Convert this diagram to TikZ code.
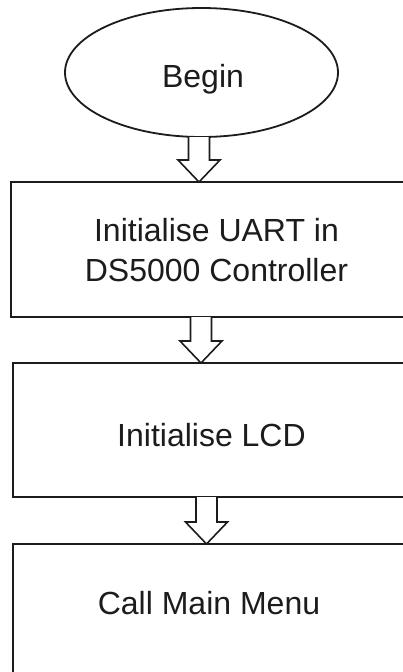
\documentclass[tikz,border=0pt]{standalone}
\usepackage{fontspec}
\setmainfont{Liberation Sans}
\usetikzlibrary{shapes.geometric,calc}

\definecolor{ink}{HTML}{1C1C1C}

\tikzset{
  terminal/.style={draw=ink, line width=1.8pt, ellipse, fill=white,
    minimum width=273pt, minimum height=129pt, inner sep=0pt, outer sep=0pt},
  process/.style={draw=ink, line width=1.8pt, rectangle, fill=white,
    minimum width=414pt, inner sep=0pt, outer sep=0pt},
  label/.style={text=ink, font=\fontsize{32}{40}\selectfont, inner sep=0pt, align=center},
  arrowline/.style={draw=ink, fill=white, line width=1.6pt, line join=miter},
}

% hollow block arrow from a tail point down to a tip point
\newcommand{\blockarrow}[2]{%
  \draw[arrowline] ($(#1)+(-10.5,0)$) -- ($(#2)+(-10.5,-22)$) -- ($(#2)+(-21,-22)$)
    -- (#2) -- ($(#2)+(21,-22)$) -- ($(#2)+(10.5,-22)$) -- ($(#1)+(10.5,0)$);
}

\begin{document}
\begin{tikzpicture}[x=1pt, y=-1pt]
  \useasboundingbox (0,0) rectangle (403,672);
  \clip (0,0) rectangle (403,672);
  \fill[white] (0,0) rectangle (403,672);

  % shapes
  \node[terminal] (begin) at (201.5,72.5) {};
  \node[process, minimum height=135pt] (uart) at (218,249.5) {};
  \node[process, minimum height=134pt] (lcd)  at (220,430) {};
  \node[process, minimum height=156pt] (menu) at (220,622) {};

  % texts
  \node[label, anchor=base] (tbegin) at (203,87) {Begin};
  \node[label] (tuart) at (216.5,250) {Initialise UART in\\DS5000 Controller};
  \node[label, anchor=base] (tlcd) at (211.5,446) {Initialise LCD};
  \node[label, anchor=base] (tmenu) at (209,614) {Call Main Menu};

  % arrow axes
  \coordinate (ax1) at (199,0);
  \coordinate (ax2) at (201,0);
  \coordinate (ax3) at (206.5,0);

  % connectors
  \blockarrow{begin.south -| ax1}{uart.north -| ax1}
  \blockarrow{uart.south -| ax2}{lcd.north -| ax2}
  \blockarrow{lcd.south -| ax3}{menu.north -| ax3}
\end{tikzpicture}
\end{document}
